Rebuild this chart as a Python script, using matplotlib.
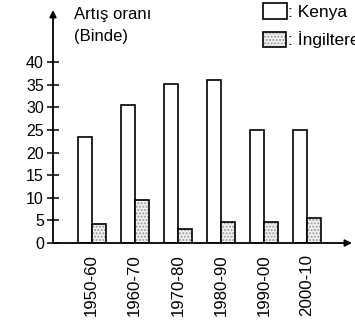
import matplotlib.pyplot as plt
from matplotlib.patches import Rectangle

plt.rcParams['font.family'] = ['Liberation Sans', 'DejaVu Sans']

# veriler (binde artis orani)
periods = ['1950-60', '1960-70', '1970-80', '1980-90', '1990-00', '2000-10']
kenya = [23.4, 30.5, 35.1, 36.0, 25.0, 25.0]
ingiltere = [4.2, 9.6, 3.0, 4.7, 4.7, 5.5]

W, H = 355, 324
fig = plt.figure(figsize=(W / 100, H / 100), dpi=100)
ax = fig.add_axes([53 / W, 81 / H, (352 - 53) / W, 233 / H])

x = list(range(len(periods)))
bw = 0.33
xk = [i - bw / 2 for i in x]
xi = [i + bw / 2 for i in x]

ax.bar(xk, kenya, width=bw, facecolor='white', edgecolor='black', linewidth=1.2)
# noktali doku: once tarama, sonra siyah cerceve
ax.bar(xi, ingiltere, width=bw, facecolor='#f2f2f2', edgecolor='#9a9a9a',
       hatch='.....', linewidth=0)
ax.bar(xi, ingiltere, width=bw, fill=False, edgecolor='black', linewidth=1.2)

ax.set_xlim(-0.9, 6.05)
ax.set_ylim(0, 51.5)
for s in ax.spines.values():
    s.set_visible(False)

ax.annotate('', xy=(1, 0), xytext=(0, 0), xycoords='axes fraction',
            arrowprops=dict(arrowstyle='-|>', lw=1.3, color='black',
                            mutation_scale=10, shrinkA=0, shrinkB=0))
ax.annotate('', xy=(0, 1), xytext=(0, 0), xycoords='axes fraction',
            arrowprops=dict(arrowstyle='-|>', lw=1.3, color='black',
                            mutation_scale=10, shrinkA=0, shrinkB=0))

ax.set_yticks([0, 5, 10, 15, 20, 25, 30, 35, 40])
ax.tick_params(axis='y', direction='inout', length=9, width=1.1, labelsize=11.5, pad=2)
ax.set_xticks(x)
ax.set_xticklabels(periods, rotation=90, fontsize=12.2)
ax.tick_params(axis='x', length=0, pad=8)

fig.text(74 / W, 1 - 19 / H, 'Artış oranı', fontsize=12, ha='left', va='baseline')
fig.text(74 / W, 1 - 41 / H, '(Binde)', fontsize=12, ha='left', va='baseline')

# lejant
fig.patches.append(Rectangle((263 / W, 1 - 19 / H), 24 / W, 16 / H,
                             transform=fig.transFigure, facecolor='white',
                             edgecolor='black', linewidth=1.2))
fig.patches.append(Rectangle((263 / W, 1 - 47 / H), 23 / W, 15 / H,
                             transform=fig.transFigure, facecolor='#f2f2f2',
                             edgecolor='#9a9a9a', hatch='.....', linewidth=0))
fig.patches.append(Rectangle((263 / W, 1 - 47 / H), 23 / W, 15 / H,
                             transform=fig.transFigure, fill=False,
                             edgecolor='black', linewidth=1.2))
fig.text(288 / W, 1 - 17 / H, ': Kenya', fontsize=12.5, ha='left', va='baseline')
fig.text(288 / W, 1 - 45 / H, ': İngiltere', fontsize=12.5, ha='left', va='baseline')

fig.savefig('out.png', dpi=100)
